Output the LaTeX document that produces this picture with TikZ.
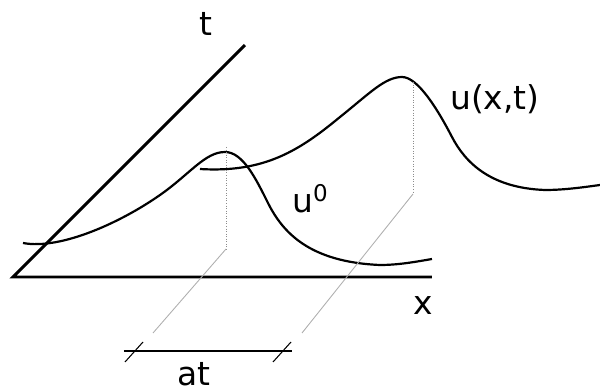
\documentclass[tikz,border=0pt]{standalone}
\usepackage{fontspec}
\setmainfont{DejaVu Sans}
\usetikzlibrary{positioning}
\definecolor{wv@gray}{RGB}{140,140,140}
\definecolor{wv@light}{RGB}{175,175,175}

\begin{document}
\begin{tikzpicture}[x=0.02cm,y=-0.02cm,
  axisline/.style={line width=1.7pt,line join=miter},
  wave/.style={line width=1.25pt},
  guide/.style={wv@gray,line width=0.45pt,densely dotted},
  drift/.style={wv@light,line width=0.5pt},
  spanline/.style={line width=1.1pt},
  tickmark/.style={line width=0.6pt},
  lbl/.style={inner sep=0pt,font=\fontsize{18.7}{22}\selectfont}
]
\useasboundingbox (0,0) rectangle (600,392);

\coordinate (o) at (13,277);
\coordinate (xend) at (432,277);
\coordinate (tend) at (245,45);
\draw[axisline] (tend) -- (o) -- (xend);

\node[lbl,anchor=base] (tlab) at (206,35) {t};
\node[lbl,anchor=base] (xlab) at (423,315) {x};

% initial profile
\draw[wave] (23,243) .. controls (60,250) and (120,223) .. (160,195)
  .. controls (190,174) and (205,152) .. (225,152)
  .. controls (243,152) and (256,179) .. (268,203)
  .. controls (283,233) and (310,262) .. (380,265)
  .. controls (400,265) and (420,261) .. (432,259);
% shifted profile
\draw[wave] (200,169) .. controls (265,173) and (300,150) .. (340,117)
  .. controls (370,93) and (385,77) .. (402,77)
  .. controls (418,77) and (438,110) .. (452,137)
  .. controls (465,162) and (490,188) .. (545,190)
  .. controls (565,190) and (585,187) .. (600,185);

\node[lbl,anchor=base west] (u0) at (292,213) {u\textsuperscript{0}};
\node[lbl,anchor=base west] (uxt) at (450,110) {u(x,t)};

\coordinate (p0top) at (226,147);
\coordinate (p0) at (226,249);
\coordinate (p0low) at (153,333);
\coordinate (p1top) at (413,82);
\coordinate (p1) at (413,194);
\coordinate (p1low) at (302,333);
\draw[guide] (p0top) -- (p0);
\draw[guide] (p1top) -- (p1);
\draw[drift] (p0) -- (p0low);
\draw[drift] (p1) -- (p1low);

\coordinate (sa) at (124,351);
\coordinate (sb) at (292,351);
\draw[spanline] (sa) -- (sb);
\draw[tickmark] (125,362) -- (143,342);
\draw[tickmark] (273,362) -- (291,342);
\node[lbl,anchor=base] (atlab) at (194,386) {at};
\end{tikzpicture}
\end{document}
